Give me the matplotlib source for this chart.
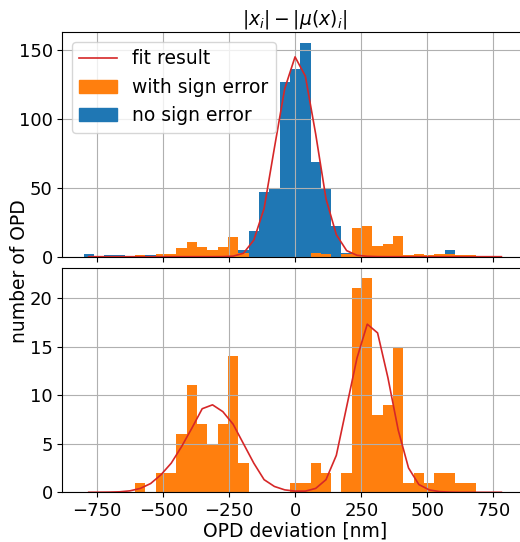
import numpy as np
import matplotlib
matplotlib.use("Agg")
import matplotlib.pyplot as plt
from matplotlib.lines import Line2D
from matplotlib.patches import Patch

# histogram bins (41 bins of ~39 nm)
bin_edges = np.linspace(-802, 800, 42)
bin_centers = 0.5 * (bin_edges[:-1] + bin_edges[1:])

# top panel: |x_i| - |mu(x)_i|, stacked counts per bin
top_with_sign_error = [0, 0, 0, 0, 0, 1, 0, 2, 2, 6,
                       11, 7, 5, 7, 14, 3, 0, 0, 0, 0,
                       0, 0, 3, 2, 0, 2, 21, 22, 8, 9,
                       15, 1, 2, 1, 2, 2, 1, 1, 0, 0, 0]
top_no_sign_error = [2, 0, 1, 1, 0, 0, 1, 0, 0, 0,
                     0, 0, 0, 0, 0, 2, 19, 47, 49, 127,
                     136, 155, 66, 48, 22, 1, 0, 0, 0, 0,
                     0, 0, 0, 0, 0, 3, 0, 0, 0, 0, 0]
top_fit = [0, 0, 0, 0, 0, 0, 0, 0, 0, 0,
           0, 0, 0, 0.05, 0.4, 2.5, 12, 35, 79, 122,
           145, 131, 89, 42, 16, 4.4, 1.0, 0.3, 0.05, 0,
           0, 0, 0, 0, 0, 0, 0, 0, 0, 0, 0]

# bottom panel: sign error cases only
bottom_with_sign_error = [0, 0, 0, 0, 0, 1, 0, 2, 2, 6,
                          11, 7, 5, 7, 14, 3, 0, 0, 0, 0,
                          1, 1, 3, 2, 0, 2, 21, 22, 8, 9,
                          15, 1, 2, 1, 2, 2, 1, 1, 0, 0, 0]
bottom_fit = [0, 0.01, 0.02, 0.05, 0.15, 0.4, 0.9, 1.8, 3.0, 4.7,
              6.6, 8.6, 9.0, 8.3, 7.0, 5.0, 3.0, 1.3, 0.6, 0.25,
              0.12, 0.12, 0.4, 1.3, 3.8, 8.8, 13.8, 17.3, 16.4, 11.8,
              6.4, 2.5, 0.8, 0.25, 0.07, 0.02, 0, 0, 0, 0, 0]

blue = "#1f77b4"
orange = "#ff7f0e"
red = "#d62728"
fs = 13.5

plt.rcParams["font.size"] = fs
plt.rcParams["xtick.labelsize"] = 13
plt.rcParams["ytick.labelsize"] = 13

fig = plt.figure(figsize=(5.2, 5.42), dpi=100)
ax1 = fig.add_axes([0.12, 0.5264, 0.8948, 0.4138])
ax2 = fig.add_axes([0.12, 0.0917, 0.8948, 0.4142], sharex=ax1)

ax1.hist([bin_centers, bin_centers], bins=bin_edges,
         weights=[top_with_sign_error, top_no_sign_error],
         stacked=True, color=[orange, blue])
ax1.plot(bin_centers, top_fit, color=red, lw=1.2)
ax1.set_title(r"$|x_i| - |\mu(x)_i|$", fontsize=fs)
ax1.grid(True)
ax1.tick_params(labelbottom=False)
handles = [Line2D([], [], color=red, lw=1.2),
           Patch(color=orange), Patch(color=blue)]
ax1.legend(handles, ["fit result", "with sign error", "no sign error"],
           loc="upper left", fontsize=fs)

ax2.hist(bin_centers, bins=bin_edges, weights=bottom_with_sign_error,
         color=orange)
ax2.plot(bin_centers, bottom_fit, color=red, lw=1.2)
ax2.grid(True)
ax2.set_xlabel("OPD deviation [nm]", labelpad=1)

fig.text(0.02, 0.5, "number of OPD", rotation=90, ha="left", va="center")

fig.savefig("out.png", dpi=100)
